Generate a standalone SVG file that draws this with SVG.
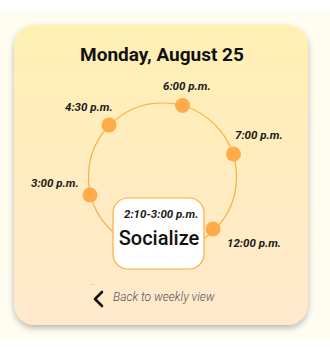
<svg xmlns="http://www.w3.org/2000/svg" width="330" height="349" viewBox="0 0 330 349">
  <style>
    .time { font-family: Roboto, "Liberation Sans", sans-serif; font-size: 11.5px; font-style: italic; font-weight: 700; fill: #1a1a1a; }
    .dot { fill: #ffab4a; }
    .ring { fill: none; stroke: #ffab40; stroke-width: 1.2; }
  </style>
  <defs>
    <linearGradient id="cardFill" x1="0" y1="0" x2="0" y2="1">
      <stop offset="0" stop-color="#fff0b3"/>
      <stop offset="1" stop-color="#ffe8cd"/>
    </linearGradient>
    <filter id="shadow" x="-10%" y="-10%" width="120%" height="125%">
      <feDropShadow dx="0" dy="3" stdDeviation="3" flood-color="#000" flood-opacity="0.28"/>
    </filter>
  </defs>

  <!-- page background -->
  <rect x="0" y="0" width="330" height="349" fill="#ffffff"/>
  <rect x="0" y="10" width="330" height="329" fill="#fffdf0"/>

  <!-- card -->
  <rect id="card" x="14" y="25" width="294" height="300" rx="21" fill="url(#cardFill)" filter="url(#shadow)"/>

  <text x="162" y="61" text-anchor="middle" font-family="Roboto, 'Liberation Sans', sans-serif" font-size="19" font-weight="700" fill="#111">Monday, August 25</text>

  <!-- connectors: the day ring -->
  <g id="connectors">
    <circle class="ring" cx="162.5" cy="177" r="74"/>
  </g>

  <!-- time markers -->
  <g id="t600"><circle class="dot" cx="182.5" cy="105.5" r="7.5"/><text class="time" x="163" y="90">6:00 p.m.</text></g>
  <g id="t430"><circle class="dot" cx="109" cy="125" r="7.5"/><text class="time" x="65" y="111">4:30 p.m.</text></g>
  <g id="t700"><circle class="dot" cx="233.5" cy="154" r="7.5"/><text class="time" x="235" y="139">7:00 p.m.</text></g>
  <g id="t300"><circle class="dot" cx="90" cy="195" r="7.5"/><text class="time" x="31" y="187">3:00 p.m.</text></g>
  <g id="t1200"><circle class="dot" cx="213" cy="229" r="7.5"/><text class="time" x="227" y="247">12:00 p.m.</text></g>

  <!-- current activity -->
  <g id="activity">
    <rect x="113" y="198" width="91" height="71" rx="15" fill="#ffffff" stroke="#ffab40" stroke-width="1.2"/>
    <text class="time" x="124" y="218">2:10-3:00 p.m.</text>
    <text x="159" y="245" text-anchor="middle" font-family="Roboto, 'Liberation Sans', sans-serif" font-size="20" font-weight="500" fill="#111">Socialize</text>
  </g>

  <!-- back link -->
  <g id="back">
    <text x="90" y="285" font-family="Roboto, 'Liberation Sans', sans-serif" font-size="7" fill="#aaa">...</text>
    <path d="M102 292 L95 299 L102 306" fill="none" stroke="#111" stroke-width="2.6" stroke-linecap="round" stroke-linejoin="round"/>
    <text x="113" y="301" font-family="Roboto, 'Liberation Sans', sans-serif" font-size="12" font-style="italic" font-weight="300" fill="#555">Back to weekly view</text>
  </g>
</svg>
